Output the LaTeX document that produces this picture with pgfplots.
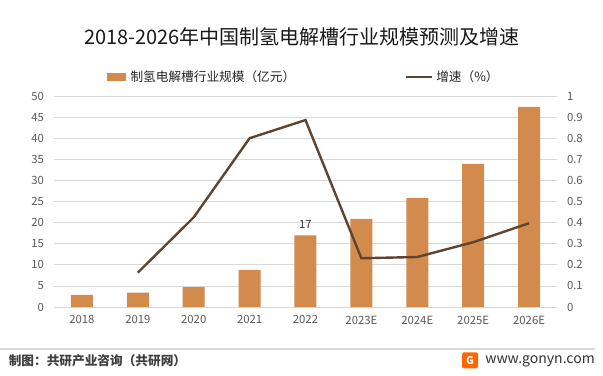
\documentclass[border=0pt]{standalone}
\usepackage{pgfplots}
\pgfplotsset{compat=1.18}
\usepackage{fontspec}
\setmainfont{Noto Sans CJK SC}
\definecolor{barc}{HTML}{D38B4D}
\definecolor{linec}{HTML}{5E4531}
\definecolor{tickc}{HTML}{595959}
\definecolor{gridc}{HTML}{D9D9D9}
\begin{document}
\begin{tikzpicture}
\useasboundingbox (0,0) rectangle (452.25pt,281.25pt);
\begin{axis}[
  at={(40.5pt,51pt)}, anchor=south west, scale only axis,
  width=377.25pt, height=158.25pt,
  xmin=-0.5, xmax=8.5, ymin=0, ymax=50,
  ytick={0,5,...,50}, xtick={0,...,8},
  xticklabels={2018,2019,2020,2021,2022,2023E,2024E,2025E,2026E},
  axis line style={draw=none}, major tick length=0pt,
  ymajorgrids, grid style={draw=gridc, line width=0.6pt},
  tick label style={font=\fontsize{8.5}{10}\selectfont, text=tickc},
  /pgf/number format/assume math mode=true,
  yticklabel style={xshift=-4pt},
  xticklabel style={yshift=-3pt},
]
\addplot[ybar, fill=barc, draw=none, bar width=16.5pt, bar shift=0pt] coordinates {
(0,2.9) (1,3.4) (2,4.7) (3,8.8) (4,17) (5,20.9) (6,25.8) (7,33.9) (8,47.4)};
\node[font=\fontsize{8.5}{10}\selectfont, text=black!80, above] at (axis cs:4,17.6) {17};
\end{axis}
\begin{axis}[
  at={(40.5pt,51pt)}, anchor=south west, scale only axis,
  width=377.25pt, height=158.25pt,
  xmin=-0.5, xmax=8.5, ymin=0, ymax=1,
  axis y line*=right, hide x axis,
  ytick={0,0.1,...,1},
  axis line style={draw=none}, major tick length=0pt,
  tick label style={font=\fontsize{8.5}{10}\selectfont, text=tickc},
  /pgf/number format/assume math mode=true,
  yticklabel style={xshift=4pt},
  legend columns=2,
  legend style={draw=none, fill=none, at={(0.497,1.09)}, anchor=center,
    font=\fontsize{9.5}{11}\selectfont, text=black!85,
    /tikz/every even column/.append style={column sep=80pt}},
]
\addlegendimage{legend image code/.code={\fill[barc] (0pt,-2.6pt) rectangle (13.5pt,2.6pt);}}
\addlegendentry{\hspace{2pt}制氢电解槽行业规模（亿元）}
\addplot[linec, line width=1.8pt, legend image code/.code={\draw[linec, line width=1.8pt] (0pt,0pt) -- (20pt,0pt);}] coordinates {
(1,0.163) (2,0.425) (3,0.80) (4,0.886) (5,0.231) (6,0.237) (7,0.307) (8,0.397)};
\addlegendentry{增速（\%）}
\end{axis}
\node[font=\fontsize{15}{18}\selectfont, text=black!90] at (226.5pt,253.5pt) {2018-2026年中国制氢电解槽行业规模预测及增速};
\draw[gridc, line width=0.8pt] (0pt,19.5pt) -- (446pt,19.5pt);
\node[anchor=west, font=\bfseries\fontsize{9.5}{11}\selectfont, text=black!75, inner sep=0pt] at (6.4pt,10.5pt) {制图：共研产业咨询（共研网）};
\fill[rounded corners=1.5pt, color=orange!80!red] (346.5pt,5pt) rectangle (358.5pt,17pt);
\node[font=\bfseries\fontsize{8}{8}\selectfont, text=white, inner sep=0pt] at (352.5pt,11pt) {G};
\node[anchor=west, font=\fontsize{10.5}{12}\selectfont, text=black!80, inner sep=0pt] at (363.75pt,10.5pt) {www.gonyn.com};
\end{tikzpicture}
\end{document}
